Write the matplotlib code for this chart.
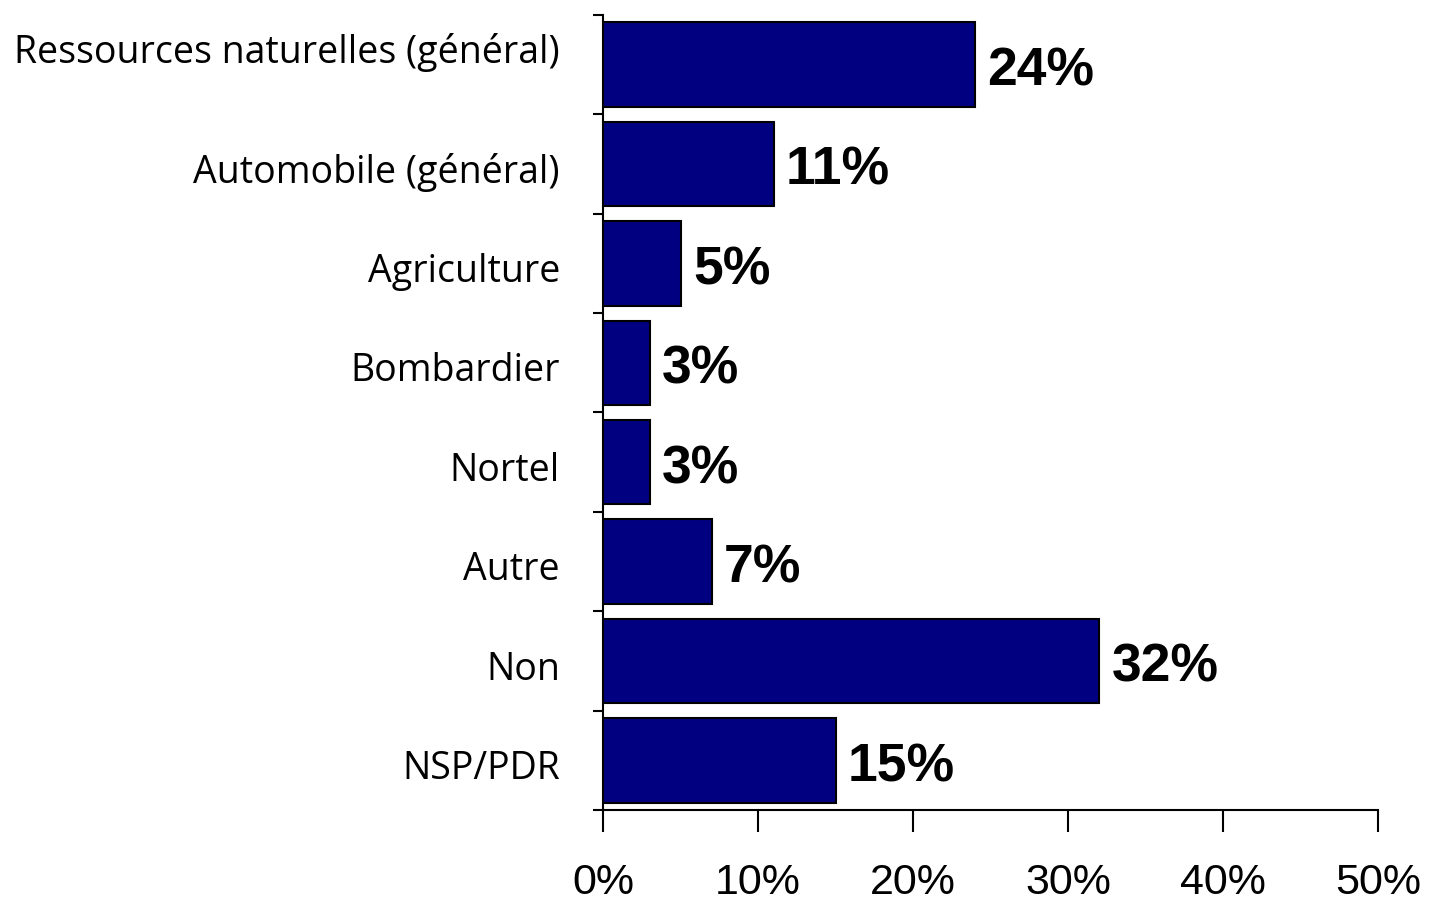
import numpy as np
import matplotlib.pyplot as plt
import matplotlib.transforms as mtransforms
from matplotlib.ticker import FixedLocator

categories = ["Ressources naturelles (général)", "Automobile (général)", "Agriculture",
              "Bombardier", "Nortel", "Autre", "Non", "NSP/PDR"]
values = [24, 11, 5, 3, 3, 7, 32, 15]
xticks = [0, 10, 20, 30, 40, 50]

fig = plt.figure(figsize=(14.3, 9.02), dpi=100)
ax = fig.add_axes([0.4217, 0.1020, 0.5420, 0.8814])

y = np.arange(len(categories))
ax.barh(y, values, height=0.85, color="#000080", edgecolor="black", linewidth=1.5)

for yi, v in zip(y, values):
    ax.text(v + 0.8, yi + 0.07, "%d%%" % v, va="center", ha="left",
            fontsize=38.5, fontweight="bold", family=["Liberation Sans", "DejaVu Sans"])

ax.set_xlim(0, 50)
ax.set_ylim(len(categories) - 0.5, -0.5)

ax.set_xticks(xticks)
ax.set_xticklabels(["%d%%" % t for t in xticks], fontsize=31,
                   family=["Liberation Sans Narrow", "Liberation Sans", "DejaVu Sans"])
ax.tick_params(axis="x", length=16, width=1.5, pad=22, direction="out")

ax.set_yticks(y)
ax.set_yticklabels(categories, fontsize=27, family=["Open Sans", "DejaVu Sans"])
ax.yaxis.set_minor_locator(FixedLocator(np.arange(-0.5, len(categories), 1.0)))
ax.tick_params(axis="y", which="major", length=0, pad=31)
ax.tick_params(axis="y", which="minor", length=7, width=1.5, direction="out")

# labels sit a bit low in the original, the first one noticeably high
for i, lab in enumerate(ax.get_yticklabels()):
    dy = 12 / 72 if i == 0 else -3 / 72
    lab.set_transform(lab.get_transform() + mtransforms.ScaledTranslation(0, dy, fig.dpi_scale_trans))

for s in ["top", "right"]:
    ax.spines[s].set_visible(False)
ax.spines["left"].set_linewidth(1.5)
ax.spines["bottom"].set_linewidth(1.5)

fig.savefig("out.png", dpi=100)
